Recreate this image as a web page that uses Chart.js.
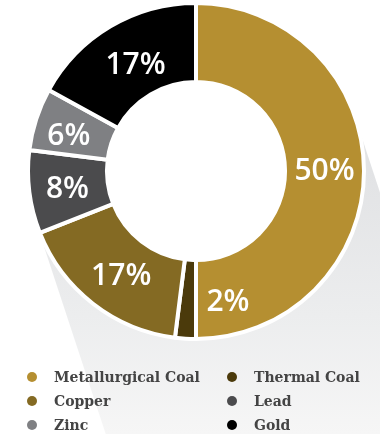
<!DOCTYPE html>
<html>
<head>
<meta charset="utf-8">
<script src="https://cdn.jsdelivr.net/npm/chart.js@4/dist/chart.umd.min.js"></script>
<style>
  html, body { margin: 0; padding: 0; background: #fff; }
  #wrap { width: 380px; height: 434px; position: relative; }
</style>
</head>
<body>
<div id="wrap"><canvas id="c"></canvas></div>
<script>
'use strict';
// revenue mix by commodity, % share
const categories = ['Metallurgical Coal', 'Thermal Coal', 'Copper', 'Lead', 'Zinc', 'Gold'];
const shares = [50, 2, 17, 8, 6, 17];
const colors = ['#b58f31', '#4b3a0b', '#846a23', '#4b4b4d', '#7f8083', '#000000'];
// label nudges (px) where the slice is too thin to hold its text
const labelNudge = [[0, 0], [40, 3], [4, 4], [-1, 2], [-5, 5], [5, 5]];

// long soft shadow behind the ring, falling down-right (kept out of the hole)
const longShadow = {
  id: 'longShadow',
  beforeDatasetsDraw(chart) {
    const arc = chart.getDatasetMeta(0).data[0];
    if (!arc) return;
    const { ctx, width, height } = chart;
    const cx = arc.x, cy = arc.y, r = arc.outerRadius;
    const dx = 0.313, dy = 0.95, L = 600;
    const px = dy, py = -dx;
    ctx.save();
    ctx.beginPath();
    ctx.rect(0, 0, width, height);
    ctx.arc(cx, cy, r - 1, 0, Math.PI * 2);
    ctx.clip('evenodd');
    const g = ctx.createLinearGradient(0, cy, 0, height);
    g.addColorStop(0, '#e2e3e5');
    g.addColorStop(0.55, '#ecedee');
    g.addColorStop(1, '#f6f6f6');
    ctx.fillStyle = g;
    ctx.beginPath();
    ctx.moveTo(cx + r * px, cy + r * py);
    ctx.lineTo(cx + r * px + dx * L, cy + r * py + dy * L);
    ctx.lineTo(cx - r * px + dx * L, cy - r * py + dy * L);
    ctx.lineTo(cx - r * px, cy - r * py);
    ctx.closePath();
    ctx.fill();
    ctx.restore();
  },
};

// percentage text on each slice
const sliceLabels = {
  id: 'sliceLabels',
  afterDatasetsDraw(chart) {
    const { ctx } = chart;
    const meta = chart.getDatasetMeta(0);
    ctx.save();
    ctx.font = '600 30px "Open Sans", sans-serif';
    ctx.fillStyle = '#ffffff';
    ctx.textAlign = 'center';
    ctx.textBaseline = 'middle';
    meta.data.forEach((el, i) => {
      const a = (el.startAngle + el.endAngle) / 2;
      const rr = (el.innerRadius + el.outerRadius) / 2;
      const n = labelNudge[i] || [0, 0];
      ctx.fillText(shares[i] + '%', el.x + Math.cos(a) * rr + n[0], el.y + Math.sin(a) * rr + n[1]);
    });
    ctx.restore();
  },
};

// two-column legend under the ring
const gridLegend = {
  id: 'gridLegend',
  afterDraw(chart) {
    const { ctx } = chart;
    const colX = [32, 232], rowY = [377, 401, 425];
    ctx.save();
    ctx.font = 'bold 14px "DejaVu Serif", serif';
    ctx.textBaseline = 'middle';
    categories.forEach((name, i) => {
      const x = colX[i % 2], y = rowY[Math.floor(i / 2)];
      ctx.fillStyle = colors[i];
      ctx.beginPath();
      ctx.arc(x, y, 5, 0, Math.PI * 2);
      ctx.fill();
      ctx.fillStyle = '#444444';
      ctx.fillText(name, x + 22, y + 1);
    });
    ctx.restore();
  },
};

new Chart(document.getElementById('c'), {
  type: 'doughnut',
  data: {
    labels: categories,
    datasets: [{
      data: shares,
      backgroundColor: colors,
      borderColor: '#ffffff',
      borderWidth: 4,
      hoverOffset: 0,
    }],
  },
  plugins: [longShadow, sliceLabels, gridLegend],
  options: {
    responsive: true,
    maintainAspectRatio: false,
    animation: false,
    cutout: '53%',
    layout: { padding: { top: 1, left: 26, right: 14, bottom: 93 } },
    plugins: { legend: { display: false }, tooltip: { enabled: false } },
  },
});
</script>
</body>
</html>
